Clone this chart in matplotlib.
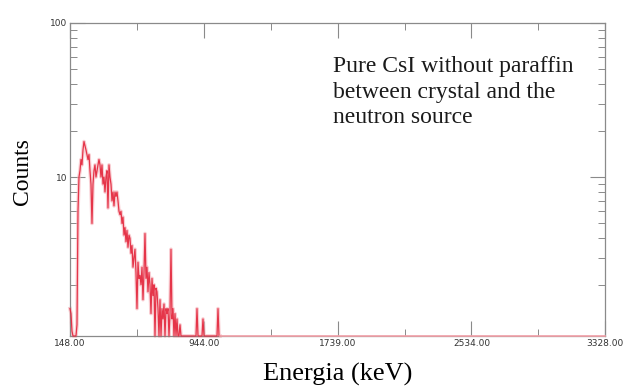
import numpy as np
import matplotlib
matplotlib.use("Agg")
import matplotlib.pyplot as plt
from matplotlib.ticker import FixedLocator, NullFormatter, LogLocator

# ---- data ----
e_start = 148.0          # keV, first channel
kev_per_channel = 5.944  # channel width
e_end = 3328.0

counts_measured = [
    1.4, 1.3, 1.0, 0, 0, 0, 0, 1.1, 6, 10,
    11, 13, 12, 15, 17, 16, 15, 14, 13, 14,
    11, 9, 5, 9, 11, 12, 10, 11, 12, 13,
    12, 10, 12, 9, 10, 8, 10, 11, 6.3, 12,
    10, 9, 7, 8, 6.5, 8, 7.5, 8, 7, 6,
    5.7, 6, 5, 5.5, 4.2, 4.7, 3.8, 4.5, 3.5, 4.2,
    4.0, 3.2, 3.6, 2.6, 3.0, 3.4, 2.4, 1.4, 2.8, 2.2,
    2.3, 2.0, 2.6, 1.6, 2.4, 4.3, 2.2, 2.6, 1.8, 2.4,
    2.0, 1.3, 2.2, 1.7, 2.0, 0, 1.9, 1.8, 1.4, 0,
    1.6, 0, 1.4, 1.2, 1.5, 0, 1.4, 1.3, 1.4, 0,
    1.3, 3.4, 1.2, 1.4, 0, 1.3, 0, 1.2, 0, 0,
    1.1, 0, 0, 0, 0, 0, 0, 0, 0, 0,
    0, 0, 0, 0, 0, 0, 0, 1.4, 0, 0,
    0, 0, 0, 1.2, 0, 0, 0, 0, 0, 0,
    0, 0, 0, 0, 0, 0, 0, 0, 1.4, 0,
]

x_tick_values = [148.00, 944.00, 1739.00, 2534.00, 3328.00]
x_tick_labels = ["148.00", "944.00", "1739.00", "2534.00", "3328.00"]
y_tick_values = [10, 100]
y_tick_labels = ["10", "100"]

annotation = "Pure CsI without paraffin\nbetween crystal and the\nneutron source"

# ---- build full spectrum (channels above the measured part hold zero counts) ----
n_channels = int(round((e_end - e_start) / kev_per_channel)) + 1
counts = np.zeros(n_channels)
counts[:len(counts_measured)] = counts_measured
energy = e_start + kev_per_channel * np.arange(n_channels)

ymin, ymax = 0.93, 100
plot_counts = np.where(counts > 0, counts, ymin)

fig = plt.figure(figsize=(6.26, 3.87), dpi=100)
ax = fig.add_axes([0.1118, 0.1318, 0.8547, 0.8088])

n_meas = len(counts_measured)
ax.plot(energy[:n_meas + 1], plot_counts[:n_meas + 1], color="#f6aeb6",
        lw=2.6, alpha=0.6, clip_on=False, zorder=2)
ax.plot(energy[:n_meas + 1], plot_counts[:n_meas + 1], color="#e3243a",
        lw=0.9, alpha=0.9, clip_on=False, zorder=3)
ax.plot(energy[n_meas:], plot_counts[n_meas:], color="#f2a0a8",
        lw=1.2, clip_on=False, zorder=3)

ax.set_yscale("log")
ax.set_xlim(e_start, e_end)
ax.set_ylim(ymin, ymax)

ax.xaxis.set_major_locator(FixedLocator(x_tick_values))
ax.set_xticklabels(x_tick_labels)
minor_x = [(a + b) / 2 for a, b in zip(x_tick_values[:-1], x_tick_values[1:])]
ax.xaxis.set_minor_locator(FixedLocator(minor_x))

ax.yaxis.set_major_locator(FixedLocator(y_tick_values))
ax.set_yticklabels(y_tick_labels)
ax.yaxis.set_minor_locator(LogLocator(base=10, subs=np.arange(2, 10)))
ax.yaxis.set_minor_formatter(NullFormatter())

for sp in ax.spines.values():
    sp.set_color("#8a8a8a")
    sp.set_linewidth(0.9)

ax.tick_params(which="both", direction="in", top=True, right=True,
               color="#8a8a8a", labelsize=6.5, labelcolor="#333333", pad=2)
ax.tick_params(which="major", length=11, width=0.8)
ax.tick_params(which="minor", length=5, width=0.7)

serif = ["Liberation Serif", "DejaVu Serif"]
ax.set_ylabel("Counts", family=serif, fontsize=17)
ax.yaxis.set_label_coords(-0.069, 0.525)
ax.set_xlabel("Energia (keV)", family=serif, fontsize=19)
ax.xaxis.set_label_coords(0.5, -0.085)

ax.text(0.4916, 0.895, annotation, transform=ax.transAxes, family=serif,
        fontsize=17, va="top", ha="left", linespacing=1.3, color="#1a1a1a")

fig.savefig("out.png", dpi=100)
